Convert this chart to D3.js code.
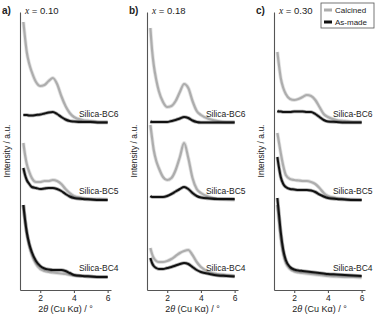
<!DOCTYPE html>
<html lang="en">
<head>
  <meta charset="UTF-8" />
  <title>SAXS patterns Silica-BC</title>
  <script src="https://d3js.org/d3.v7.min.js"></script>
  <style>
    body { margin: 0; background: #fff; }
    text { font-family: 'Liberation Sans', Arial, sans-serif; fill: #222; }
    .axis path, .axis line { stroke: #555; stroke-width: 1.1; }
    .axis text { font-size: 8.5px; fill: #222; }
  </style>
</head>
<body>
<script>
  // 2theta grid (deg)
  const twoTheta = [1.0, 1.1, 1.2, 1.35, 1.5, 1.75, 2.0, 2.25, 2.5, 2.75, 3.0, 3.25, 3.5, 3.75, 4.0, 4.5, 5.0, 5.5, 6.0];
  const panelTags = ["a)", "b)", "c)"];
  const xValues = ["0.10", "0.18", "0.30"];
  const samples = ["Silica-BC4", "Silica-BC5", "Silica-BC6"];
  const offsets = [0, 38.5, 77];   // vertical stacking, a.u.
  const xTicks = [2, 4, 6];

  // intensities (a.u.), order BC4, BC5, BC6
  const calcinedA = [
    [42.5, 35, 28.5, 22, 17.5, 13, 10.5, 9.5, 9, 8.75, 8.5, 8.25, 8, 7.5, 7.25, 7, 6.75, 6.5, 6.5],
    [35, 29, 24.5, 20.5, 17.5, 15.5, 15.5, 16, 16, 16.5, 16, 14.5, 12, 10, 8.5, 7.5, 7, 7, 6.75],
    [57, 49, 42, 36, 32, 27, 25, 25.5, 27.5, 29, 26, 20, 15, 11.5, 9.5, 8, 7.5, 7, 7]
  ];
  const asMadeA = [
    [42.5, 35, 29, 23, 19, 14.5, 12, 10.75, 10.25, 10, 10, 10, 9.5, 8.5, 7.5, 7, 6.75, 6.5, 6.5],
    [22.5, 19, 16.5, 14.5, 13, 12.5, 12, 12.25, 12.5, 12.5, 12, 11, 9.5, 8.25, 7.5, 7, 6.75, 6.5, 6.5],
    [10.5, 10.5, 10.5, 10.25, 10.25, 10.5, 10.75, 11.25, 11.75, 12, 11, 9.5, 8.25, 7.5, 7.25, 7, 7, 6.75, 6.75]
  ];
  const calcinedB = [
    [21, 18, 16, 14.5, 14, 14, 14.5, 15.5, 17, 18.5, 19.5, 20, 17.5, 14, 11.5, 9, 8, 7.5, 7],
    [44, 37.5, 31.5, 26, 22.5, 18, 16.5, 17.5, 21.5, 28, 35, 27.5, 17.5, 12, 10, 8, 7, 6.75, 6.5],
    [54, 43, 35.5, 28, 22.5, 17, 14.5, 15, 17.5, 22, 26, 24, 17.5, 12.5, 10.5, 8.5, 7.5, 7, 7]
  ];
  const asMadeB = [
    [16, 13.5, 12, 11, 10.5, 10.5, 11, 11.5, 12.25, 13, 13.5, 13, 11.5, 10, 9, 8, 7.25, 7, 6.75],
    [8.5, 8, 8, 8, 8, 8, 8.5, 9.5, 10.75, 12, 13, 12, 10, 8.5, 7.75, 7.25, 7, 7, 7],
    [7.25, 7, 7, 7, 7, 7, 7, 7.5, 8, 8.75, 9.5, 9, 7.75, 7, 6.75, 6.75, 6.75, 6.75, 6.75]
  ];
  const calcinedC = [
    [42.5, 34, 26, 18, 13.5, 10.5, 9.25, 8.75, 8.5, 8.25, 8, 7.75, 7.5, 7.25, 7, 6.75, 6.5, 6.5, 6.25],
    [40, 35, 30, 23.5, 19, 17, 16.5, 16.25, 16, 16, 15.5, 14.5, 12.5, 10, 8.5, 7.5, 7, 6.75, 6.5],
    [42, 35, 29, 24, 21, 18.5, 18, 18.5, 19.5, 20.5, 20, 18, 14.5, 11, 9.5, 8, 7.5, 7, 7]
  ];
  const asMadeC = [
    [46, 37.5, 29, 20, 15, 11.5, 10.25, 9.75, 9.5, 9.25, 9, 8.75, 8.5, 8.25, 8, 7.75, 7.5, 7.25, 7],
    [28, 22.5, 18, 14.5, 13, 12, 11.75, 11.5, 11.5, 11.5, 11.25, 10.5, 9.25, 8.25, 7.5, 7, 6.75, 6.5, 6.5],
    [12.5, 12.25, 12.25, 12, 12, 12, 12.25, 12.25, 12.25, 12, 12, 11, 9.5, 8, 7.25, 7, 6.75, 6.75, 6.75]
  ];
  const calcined = [calcinedA, calcinedB, calcinedC];
  const asMade = [asMadeA, asMadeB, asMadeC];

  const width = 377, height = 318;
  const panelLeft = [20, 147, 274], panelW = 91;
  const yTop = 12, yBottom = 290;

  const svg = d3.select("body").append("svg")
    .attr("width", width)
    .attr("height", height);

  const y = d3.scaleLinear().domain([0, 139]).range([yBottom, yTop]);

  // noisy-looking trace: faint wide band + core line
  function trace(g, data, line, color, w) {
    g.append("path")
      .datum(data)
      .attr("d", line)
      .attr("fill", "none")
      .attr("stroke", color)
      .attr("stroke-opacity", 0.35)
      .attr("stroke-width", w + 1.6)
      .attr("stroke-linejoin", "round");
    g.append("path")
      .datum(data)
      .attr("d", line)
      .attr("fill", "none")
      .attr("stroke", color)
      .attr("stroke-width", w)
      .attr("stroke-linejoin", "round");
  }

  panelTags.forEach((tag, p) => {
    const x = d3.scaleLinear().domain([0.8, 6.2]).range([panelLeft[p], panelLeft[p] + panelW]);
    const g = svg.append("g");

    const line = d3.line()
      .x((d, i) => x(twoTheta[i]))
      .curve(d3.curveMonotoneX);

    samples.forEach((s, k) => {
      line.y(d => y(d + offsets[k]));
      trace(g, calcined[p][k], line, "#adadad", 2.2);
      trace(g, asMade[p][k], line, "#111", 2.0);

      g.append("text")
        .attr("x", x(6.65))
        .attr("y", y(offsets[k] + 11))
        .attr("dy", "0.35em")
        .attr("text-anchor", "end")
        .style("font-size", "8.5px")
        .text(s);
    });

    // axes
    g.append("g")
      .attr("class", "axis")
      .attr("transform", `translate(0,${yBottom})`)
      .call(d3.axisBottom(x).tickValues(xTicks).tickFormat(d3.format("d"))
        .tickSize(3).tickSizeOuter(0).tickPadding(2));

    g.append("g")
      .attr("class", "axis")
      .attr("transform", `translate(${panelLeft[p]},0)`)
      .call(d3.axisLeft(y).tickValues([]).tickSizeOuter(0));

    g.append("text")
      .attr("x", panelLeft[p] + panelW / 2)
      .attr("y", 312)
      .attr("text-anchor", "middle")
      .style("font-size", "9px")
      .html("2<tspan font-style='italic'>θ</tspan> (Cu Kα) / °");

    g.append("text")
      .attr("transform", `translate(${panelLeft[p] - 10},${(yTop + yBottom) / 2}) rotate(-90)`)
      .attr("text-anchor", "middle")
      .style("font-size", "8.5px")
      .text("Intensity / a.u.");

    g.append("text")
      .attr("x", panelLeft[p] - 18)
      .attr("y", 14)
      .style("font-size", "10px")
      .style("font-weight", "bold")
      .text(tag);

    g.append("text")
      .attr("x", panelLeft[p] + 5)
      .attr("y", 14)
      .style("font-size", "9.5px")
      .html("<tspan font-style='italic' font-family='Liberation Serif'>x</tspan> = " + xValues[p]);
  });

  // legend
  const legend = svg.append("g").attr("transform", "translate(321,3)");
  legend.append("rect")
    .attr("width", 53).attr("height", 25)
    .attr("fill", "#fff").attr("stroke", "#555").attr("stroke-width", 0.8);
  [["Calcined", "#adadad"], ["As-made", "#111"]].forEach(([name, c], i) => {
    legend.append("line")
      .attr("x1", 3).attr("x2", 11)
      .attr("y1", 7 + i * 12).attr("y2", 7 + i * 12)
      .attr("stroke", c).attr("stroke-width", 3);
    legend.append("text")
      .attr("x", 14).attr("y", 7 + i * 12)
      .attr("dy", "0.35em")
      .style("font-size", "8px")
      .text(name);
  });
</script>
</body>
</html>
